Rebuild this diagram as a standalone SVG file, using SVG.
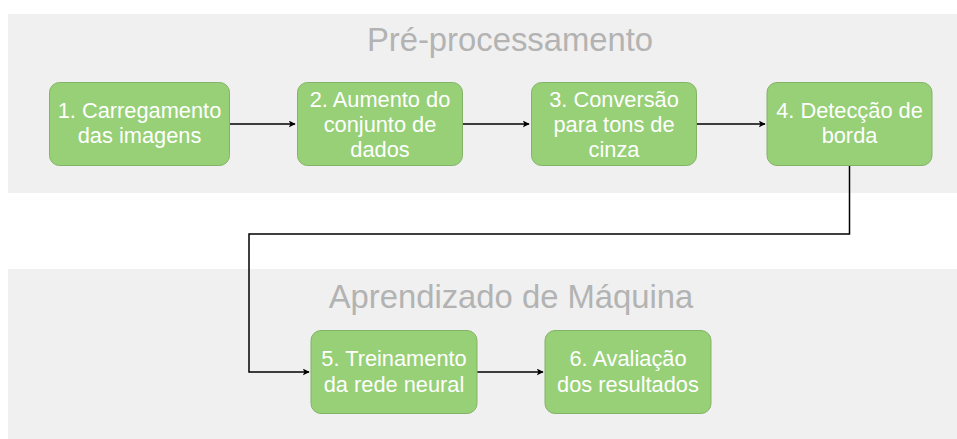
<svg xmlns="http://www.w3.org/2000/svg" width="957" height="439" viewBox="0 0 957 439">
<defs>
<style>
.panel{fill:#f0f0f0;stroke:none}
.title{font-family:"Liberation Sans",Arial,sans-serif;font-size:32.8px;fill:#b3b3b3;text-anchor:middle}
.node rect{fill:#97d077;stroke:#82b366;stroke-width:1}
.node text{font-family:"Liberation Sans",Arial,sans-serif;font-size:21.8px;fill:#ffffff;text-anchor:middle}
.conn{fill:none;stroke:#000000;stroke-width:1.5}
</style>
<marker id="arr" viewBox="0 0 10 10" refX="9" refY="5" markerWidth="7" markerHeight="7" markerUnits="userSpaceOnUse" orient="auto">
<path d="M0,0 L10,5 L0,10 L2.5,5 Z" fill="#000"/>
</marker>
</defs>
<rect id="bg" x="0" y="0" width="957" height="439" fill="#ffffff"/>
<g id="panel-pre">
<rect class="panel" x="8" y="14" width="949" height="179"/>
<text class="title" x="510" y="51">Pré-processamento</text>
</g>
<g id="panel-ml">
<rect class="panel" x="8" y="269" width="949" height="170"/>
<text class="title" x="511" y="307.5">Aprendizado de Máquina</text>
</g>
<g id="connectors">
<path class="conn" d="M229,124 L295,124" marker-end="url(#arr)"/>
<path class="conn" d="M463,124 L529,124" marker-end="url(#arr)"/>
<path class="conn" d="M697,124 L765,124" marker-end="url(#arr)"/>
<path class="conn" d="M849.5,166 L849.5,234 L249,234 L249,372 L309,372" marker-end="url(#arr)"/>
<path class="conn" d="M477,372 L543,372" marker-end="url(#arr)"/>
</g>
<g id="n1" class="node">
<rect x="49.5" y="82.5" width="180" height="83" rx="10"/>
<text x="139.5" y="117.5">1. Carregamento</text>
<text x="139.5" y="143.3">das imagens</text>
</g>
<g id="n2" class="node">
<rect x="297.5" y="82.5" width="165" height="83" rx="10"/>
<text x="380" y="106.7">2. Aumento do</text>
<text x="380" y="132.3">conjunto de</text>
<text x="380" y="157">dados</text>
</g>
<g id="n3" class="node">
<rect x="531.5" y="82.5" width="165" height="83" rx="10"/>
<text x="614" y="106.7">3. Conversão</text>
<text x="614" y="132.3">para tons de</text>
<text x="614" y="157">cinza</text>
</g>
<g id="n4" class="node">
<rect x="767" y="82.5" width="165" height="83" rx="10"/>
<text x="849.5" y="118.3">4. Detecção de</text>
<text x="849.5" y="143.3">borda</text>
</g>
<g id="n5" class="node">
<rect x="311" y="330.5" width="166" height="83" rx="10"/>
<text x="394" y="366">5. Treinamento</text>
<text x="394" y="391.7">da rede neural</text>
</g>
<g id="n6" class="node">
<rect x="545" y="330.5" width="166" height="83" rx="10"/>
<text x="628" y="366">6. Avaliação</text>
<text x="628" y="391.7">dos resultados</text>
</g>
</svg>
